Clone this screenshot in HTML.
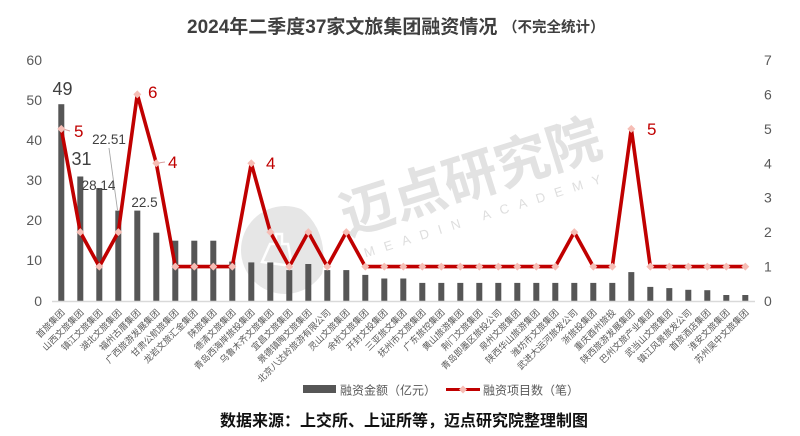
<!DOCTYPE html>
<html>
<head>
<meta charset="utf-8">
<style>
  html,body{margin:0;padding:0;background:#fff;}
  svg{display:block;}
  text{font-family:"Liberation Sans","Noto Sans CJK SC",sans-serif;}
</style>
</head>
<body>
<svg width="800" height="436" viewBox="0 0 800 436" xmlns="http://www.w3.org/2000/svg">
  <rect x="0" y="0" width="800" height="436" fill="#ffffff"/>

  <!-- Title -->
  <text x="187" y="33" font-size="19" font-weight="bold" fill="#3f3f3f">2024年二季度37家文旅集团融资情况</text>
  <text x="503" y="32" font-size="14.5" font-weight="bold" fill="#3f3f3f">（不完全统计）</text>

  <!-- Watermark -->
  <g>
    <circle cx="285" cy="250" r="44" fill="#e6e6e6"/>
    <path d="M300 208 Q335 235 318 292 L330 290 Q345 232 306 204 Z" fill="#ffffff"/>
    <path d="M262 262 l8 -18 l6 0 l0 -10 l6 0 l0 10 l6 0 l4 22 Z" fill="none" stroke="#ffffff" stroke-width="2.5"/>
    <text x="471" y="196" font-size="54" font-weight="bold" fill="#e2e2e2" text-anchor="middle" transform="rotate(-17.5 471 178)">迈点研究院</text>
    <text x="487" y="219" font-size="13" fill="#dedede" text-anchor="middle" letter-spacing="10" transform="rotate(-17.5 487 214)">MEADIN ACADEMY</text>
  </g>

  <!-- Left axis labels -->
  <g font-size="14" fill="#595959" text-anchor="end">
    <text x="42" y="65">60</text>
    <text x="42" y="105">50</text>
    <text x="42" y="145">40</text>
    <text x="42" y="185">30</text>
    <text x="42" y="225">20</text>
    <text x="42" y="265">10</text>
    <text x="42" y="306">0</text>
  </g>
  <!-- Right axis labels -->
  <g font-size="14" fill="#595959" text-anchor="start">
    <text x="764" y="65">7</text>
    <text x="764" y="99.4">6</text>
    <text x="764" y="133.9">5</text>
    <text x="764" y="168.3">4</text>
    <text x="764" y="202.7">3</text>
    <text x="764" y="237.1">2</text>
    <text x="764" y="271.6">1</text>
    <text x="764" y="306">0</text>
  </g>

  <!-- Bars -->
  <g fill="#565656">
    <rect x="58.3" y="104.2" width="6" height="196.8"/>
    <rect x="77.3" y="176.5" width="6" height="124.5"/>
    <rect x="96.3" y="188.0" width="6" height="113.0"/>
    <rect x="115.3" y="210.6" width="6" height="90.4"/>
    <rect x="134.3" y="210.6" width="6" height="90.4"/>
    <rect x="153.3" y="232.7" width="6" height="68.3"/>
    <rect x="172.3" y="240.7" width="6" height="60.3"/>
    <rect x="191.3" y="240.7" width="6" height="60.3"/>
    <rect x="210.3" y="240.7" width="6" height="60.3"/>
    <rect x="229.3" y="261.6" width="6" height="39.4"/>
    <rect x="248.3" y="262.4" width="6" height="38.6"/>
    <rect x="267.3" y="262.4" width="6" height="38.6"/>
    <rect x="286.3" y="270.1" width="6" height="30.9"/>
    <rect x="305.3" y="264.0" width="6" height="37.0"/>
    <rect x="324.3" y="270.1" width="6" height="30.9"/>
    <rect x="343.3" y="270.1" width="6" height="30.9"/>
    <rect x="362.3" y="274.9" width="6" height="26.1"/>
    <rect x="381.3" y="278.5" width="6" height="22.5"/>
    <rect x="400.3" y="278.5" width="6" height="22.5"/>
    <rect x="419.3" y="282.9" width="6" height="18.1"/>
    <rect x="438.3" y="282.9" width="6" height="18.1"/>
    <rect x="457.3" y="282.9" width="6" height="18.1"/>
    <rect x="476.3" y="282.9" width="6" height="18.1"/>
    <rect x="495.3" y="282.9" width="6" height="18.1"/>
    <rect x="514.3" y="282.9" width="6" height="18.1"/>
    <rect x="533.3" y="282.9" width="6" height="18.1"/>
    <rect x="552.3" y="282.9" width="6" height="18.1"/>
    <rect x="571.3" y="282.9" width="6" height="18.1"/>
    <rect x="590.3" y="282.9" width="6" height="18.1"/>
    <rect x="609.3" y="282.9" width="6" height="18.1"/>
    <rect x="628.3" y="272.1" width="6" height="28.9"/>
    <rect x="647.3" y="286.9" width="6" height="14.1"/>
    <rect x="666.3" y="288.1" width="6" height="12.9"/>
    <rect x="685.3" y="289.8" width="6" height="11.2"/>
    <rect x="704.3" y="290.2" width="6" height="10.8"/>
    <rect x="723.3" y="295.0" width="6" height="6.0"/>
    <rect x="742.3" y="295.0" width="6" height="6.0"/>
  </g>

  <!-- Axis baseline -->
  <line x1="52" y1="301.5" x2="755" y2="301.5" stroke="#d9d9d9" stroke-width="1.5"/>

  <!-- Leader lines -->
  <line x1="109" y1="148" x2="117.5" y2="210" stroke="#a6a6a6" stroke-width="0.9"/>
  <line x1="63" y1="129" x2="70" y2="131" stroke="#d9a0a0" stroke-width="1"/>
  <line x1="158" y1="163" x2="165" y2="162" stroke="#d9a0a0" stroke-width="1"/>

  <!-- Line series -->
  <polyline fill="none" stroke="#C00000" stroke-width="3.6" stroke-linejoin="round"
    points="61.3,128.9 80.3,232.1 99.3,266.6 118.3,232.1 137.3,94.4 156.3,163.3 175.3,266.6 194.3,266.6 213.3,266.6 232.3,266.6 251.3,163.3 270.3,232.1 289.3,266.6 308.3,232.1 327.3,266.6 346.3,232.1 365.3,266.6 384.3,266.6 403.3,266.6 422.3,266.6 441.3,266.6 460.3,266.6 479.3,266.6 498.3,266.6 517.3,266.6 536.3,266.6 555.3,266.6 574.3,232.1 593.3,266.6 612.3,266.6 631.3,128.9 650.3,266.6 669.3,266.6 688.3,266.6 707.3,266.6 726.3,266.6 745.3,266.6"/>

  <!-- Markers -->
  <g fill="#f6bdb5">
    <polygon points="61.3,124.9 65.3,128.9 61.3,132.9 57.3,128.9"/>
    <polygon points="80.3,228.1 84.3,232.1 80.3,236.1 76.3,232.1"/>
    <polygon points="99.3,262.6 103.3,266.6 99.3,270.6 95.3,266.6"/>
    <polygon points="118.3,228.1 122.3,232.1 118.3,236.1 114.3,232.1"/>
    <polygon points="137.3,90.4 141.3,94.4 137.3,98.4 133.3,94.4"/>
    <polygon points="156.3,159.3 160.3,163.3 156.3,167.3 152.3,163.3"/>
    <polygon points="175.3,262.6 179.3,266.6 175.3,270.6 171.3,266.6"/>
    <polygon points="194.3,262.6 198.3,266.6 194.3,270.6 190.3,266.6"/>
    <polygon points="213.3,262.6 217.3,266.6 213.3,270.6 209.3,266.6"/>
    <polygon points="232.3,262.6 236.3,266.6 232.3,270.6 228.3,266.6"/>
    <polygon points="251.3,159.3 255.3,163.3 251.3,167.3 247.3,163.3"/>
    <polygon points="270.3,228.1 274.3,232.1 270.3,236.1 266.3,232.1"/>
    <polygon points="289.3,262.6 293.3,266.6 289.3,270.6 285.3,266.6"/>
    <polygon points="308.3,228.1 312.3,232.1 308.3,236.1 304.3,232.1"/>
    <polygon points="327.3,262.6 331.3,266.6 327.3,270.6 323.3,266.6"/>
    <polygon points="346.3,228.1 350.3,232.1 346.3,236.1 342.3,232.1"/>
    <polygon points="365.3,262.6 369.3,266.6 365.3,270.6 361.3,266.6"/>
    <polygon points="384.3,262.6 388.3,266.6 384.3,270.6 380.3,266.6"/>
    <polygon points="403.3,262.6 407.3,266.6 403.3,270.6 399.3,266.6"/>
    <polygon points="422.3,262.6 426.3,266.6 422.3,270.6 418.3,266.6"/>
    <polygon points="441.3,262.6 445.3,266.6 441.3,270.6 437.3,266.6"/>
    <polygon points="460.3,262.6 464.3,266.6 460.3,270.6 456.3,266.6"/>
    <polygon points="479.3,262.6 483.3,266.6 479.3,270.6 475.3,266.6"/>
    <polygon points="498.3,262.6 502.3,266.6 498.3,270.6 494.3,266.6"/>
    <polygon points="517.3,262.6 521.3,266.6 517.3,270.6 513.3,266.6"/>
    <polygon points="536.3,262.6 540.3,266.6 536.3,270.6 532.3,266.6"/>
    <polygon points="555.3,262.6 559.3,266.6 555.3,270.6 551.3,266.6"/>
    <polygon points="574.3,228.1 578.3,232.1 574.3,236.1 570.3,232.1"/>
    <polygon points="593.3,262.6 597.3,266.6 593.3,270.6 589.3,266.6"/>
    <polygon points="612.3,262.6 616.3,266.6 612.3,270.6 608.3,266.6"/>
    <polygon points="631.3,124.9 635.3,128.9 631.3,132.9 627.3,128.9"/>
    <polygon points="650.3,262.6 654.3,266.6 650.3,270.6 646.3,266.6"/>
    <polygon points="669.3,262.6 673.3,266.6 669.3,270.6 665.3,266.6"/>
    <polygon points="688.3,262.6 692.3,266.6 688.3,270.6 684.3,266.6"/>
    <polygon points="707.3,262.6 711.3,266.6 707.3,270.6 703.3,266.6"/>
    <polygon points="726.3,262.6 730.3,266.6 726.3,270.6 722.3,266.6"/>
    <polygon points="745.3,262.6 749.3,266.6 745.3,270.6 741.3,266.6"/>
  </g>

  <!-- Bar data labels -->
  <g fill="#404040" text-anchor="middle">
    <text x="62.5" y="95" font-size="18">49</text>
    <text x="81.5" y="165" font-size="18">31</text>
    <text x="98.5" y="190" font-size="13.5">28.14</text>
    <text x="109" y="144" font-size="13.5">22.51</text>
    <text x="144.5" y="207" font-size="13.5">22.5</text>
  </g>
  <!-- Line data labels -->
  <g fill="#C00000" font-size="17">
    <text x="74" y="137">5</text>
    <text x="148" y="98">6</text>
    <text x="168" y="168">4</text>
    <text x="266" y="169">4</text>
    <text x="647" y="135">5</text>
  </g>

  <!-- X labels -->
  <g font-size="9" fill="#595959" text-anchor="end">
    <text transform="translate(65.3,313) rotate(-45)">首旅集团</text>
    <text transform="translate(84.3,313) rotate(-45)">山西文旅集团</text>
    <text transform="translate(103.3,313) rotate(-45)">镇江文旅集团</text>
    <text transform="translate(122.3,313) rotate(-45)">湖北文旅集团</text>
    <text transform="translate(141.3,313) rotate(-45)">福州古厝集团</text>
    <text transform="translate(160.3,313) rotate(-45)">广西旅游发展集团</text>
    <text transform="translate(179.3,313) rotate(-45)">甘肃公航旅集团</text>
    <text transform="translate(198.3,313) rotate(-45)">龙岩文旅汇金集团</text>
    <text transform="translate(217.3,313) rotate(-45)">陕旅集团</text>
    <text transform="translate(236.3,313) rotate(-45)">德清文旅集团</text>
    <text transform="translate(255.3,313) rotate(-45)">青岛西海岸旅投集团</text>
    <text transform="translate(274.3,313) rotate(-45)">乌鲁木齐文旅集团</text>
    <text transform="translate(293.3,313) rotate(-45)">宜昌文旅集团</text>
    <text transform="translate(312.3,313) rotate(-45)">景德镇陶文旅集团</text>
    <text transform="translate(331.3,313) rotate(-45)">北京八达岭旅游有限公司</text>
    <text transform="translate(350.3,313) rotate(-45)">灵山文旅集团</text>
    <text transform="translate(369.3,313) rotate(-45)">余杭文旅集团</text>
    <text transform="translate(388.3,313) rotate(-45)">开封文投集团</text>
    <text transform="translate(407.3,313) rotate(-45)">三亚旅文集团</text>
    <text transform="translate(426.3,313) rotate(-45)">抚州市文旅集团</text>
    <text transform="translate(445.3,313) rotate(-45)">广东旅控集团</text>
    <text transform="translate(464.3,313) rotate(-45)">黄山旅游集团</text>
    <text transform="translate(483.3,313) rotate(-45)">荆门文旅集团</text>
    <text transform="translate(502.3,313) rotate(-45)">青岛即墨区旅投公司</text>
    <text transform="translate(521.3,313) rotate(-45)">泉州文旅集团</text>
    <text transform="translate(540.3,313) rotate(-45)">陕西华山旅游集团</text>
    <text transform="translate(559.3,313) rotate(-45)">潍坊市文旅集团</text>
    <text transform="translate(578.3,313) rotate(-45)">武进大运河旅发公司</text>
    <text transform="translate(597.3,313) rotate(-45)">浙旅投集团</text>
    <text transform="translate(616.3,313) rotate(-45)">重庆酉州旅投</text>
    <text transform="translate(635.3,313) rotate(-45)">陕西旅游发展集团</text>
    <text transform="translate(654.3,313) rotate(-45)">巴州文旅产业集团</text>
    <text transform="translate(673.3,313) rotate(-45)">武当山文旅集团</text>
    <text transform="translate(692.3,313) rotate(-45)">镇江风景旅发公司</text>
    <text transform="translate(711.3,313) rotate(-45)">首旅酒店集团</text>
    <text transform="translate(730.3,313) rotate(-45)">淮安文旅集团</text>
    <text transform="translate(749.3,313) rotate(-45)">苏州吴中文旅集团</text>
  </g>

  <!-- Legend -->
  <rect x="303" y="385" width="33" height="8" fill="#565656"/>
  <text x="340" y="394.5" font-size="12" fill="#595959">融资金额（亿元）</text>
  <line x1="446" y1="389.5" x2="480" y2="389.5" stroke="#C00000" stroke-width="3"/>
  <polygon points="463,385.5 467,389.5 463,393.5 459,389.5" fill="#f6bdb5"/>
  <text x="483" y="394.5" font-size="12" fill="#595959">融资项目数（笔）</text>

  <!-- Footer -->
  <text x="404" y="426" font-size="16" font-weight="bold" fill="#111111" text-anchor="middle">数据来源：上交所、上证所等，迈点研究院整理制图</text>
</svg>
</body>
</html>
